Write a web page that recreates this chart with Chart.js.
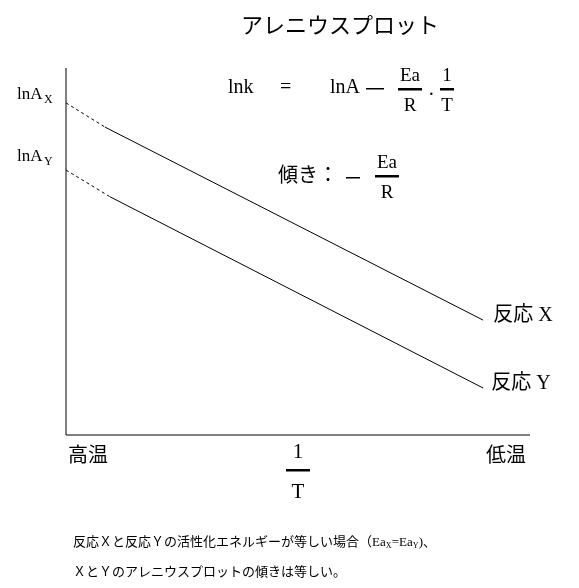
<!DOCTYPE html>
<html><head><meta charset="utf-8">
<script src="https://cdn.jsdelivr.net/npm/chart.js@4.4.0/dist/chart.umd.min.js"></script>
<style>html,body{margin:0;padding:0;background:#fff}#c{display:block}</style>
</head><body>
<canvas id="c" width="579" height="588"></canvas>
<script>
// values in axis units (x: 1/T, 0..100 ; y: lnk, 0..100)
const xStart = [0, 8.4], xMain = [8.4, 89.9];
const lnkXDash = [90.5, 83.9], lnkXMain = [83.9, 31.3];
const yStart = [0, 9.5], yMain = [9.5, 89.9];
const lnkYDash = [72.2, 64.9], lnkYMain = [64.9, 12.8];
const seriesLabels = ['反応 X', '反応 Y'];

const serif = '"Liberation Serif", "Noto Sans CJK JP", serif';
const pts = (xs, ys) => xs.map((x, i) => ({x: x, y: ys[i]}));
const line = (data, dash) => ({data: data, borderColor: '#000', borderWidth: 1, borderDash: dash, pointRadius: 0, fill: false});

function frac(ctx, top, bot, cx, barY, w, size, gap) {
    ctx.font = size + 'px ' + serif;
    ctx.textAlign = 'center';
    ctx.textBaseline = 'alphabetic';
    ctx.fillText(top, cx, barY - gap);
    ctx.fillRect(cx - w / 2, barY - 1, w, 2.5);
    ctx.textBaseline = 'top';
    ctx.fillText(bot, cx, barY + gap);
}

const decor = {
    id: 'decor',
    afterDraw(chart) {
        const ctx = chart.ctx, a = chart.chartArea;
        ctx.save();
        ctx.fillStyle = '#000';
        ctx.strokeStyle = '#000';
        ctx.lineWidth = 1;
        ctx.beginPath();
        ctx.moveTo(a.left, a.top); ctx.lineTo(a.left, a.bottom); ctx.lineTo(a.right, a.bottom);
        ctx.stroke();

        ctx.textBaseline = 'middle';
        ctx.textAlign = 'center';
        ctx.font = '22px ' + serif;
        ctx.fillText('アレニウスプロット', 340, 27);

        ctx.font = '20px ' + serif;
        ctx.textAlign = 'left';
        ctx.fillText('lnk', 228, 88);
        ctx.fillText('=', 280, 88);
        ctx.fillText('lnA', 330, 88);
        ctx.fillRect(366, 88, 18, 1.5);
        ctx.fillText('·', 428, 96);
        frac(ctx, 'Ea', 'R', 410, 89, 24, 19, 8);
        frac(ctx, '1', 'T', 447, 89, 14, 19, 8);

        ctx.textBaseline = 'middle';
        ctx.textAlign = 'left';
        ctx.font = '20px ' + serif;
        ctx.fillText('傾き：', 278, 177);
        ctx.fillRect(346, 177, 14, 1.5);
        frac(ctx, 'Ea', 'R', 387, 176, 24, 19, 8);

        ctx.textBaseline = 'middle';
        ctx.textAlign = 'left';
        ctx.font = '17px ' + serif;
        ctx.fillText('lnA', 17, 95); ctx.fillText('lnA', 17, 157);
        ctx.font = '12px ' + serif;
        ctx.fillText('X', 44, 100); ctx.fillText('Y', 44, 162);

        ctx.font = '20px ' + serif;
        const mx = chart.getDatasetMeta(1).data, my = chart.getDatasetMeta(3).data;
        ctx.fillText(seriesLabels[0], mx[1].x + 10, mx[1].y - 4);
        ctx.fillText(seriesLabels[1], my[1].x + 8, my[1].y - 4);

        ctx.fillText('高温', 68, 457);
        ctx.fillText('低温', 486, 457);
        frac(ctx, '1', 'T', 298, 470, 24, 21, 12);

        ctx.textAlign = 'left';
        ctx.textBaseline = 'middle';
        ctx.font = '13px ' + serif;
        ctx.fillText('反応Ｘと反応Ｙの活性化エネルギーが等しい場合（Ea', 73, 543);
        ctx.fillText('ＸとＹのアレニウスプロットの傾きは等しい。', 73, 573);
        let w = ctx.measureText('反応Ｘと反応Ｙの活性化エネルギーが等しい場合（Ea').width + 73;
        ctx.font = '8px ' + serif; ctx.fillText('X', w, 546); w += 6;
        ctx.font = '13px ' + serif; ctx.fillText('=Ea', w, 543); w += ctx.measureText('=Ea').width;
        ctx.font = '8px ' + serif; ctx.fillText('Y', w, 546); w += 6;
        ctx.font = '13px ' + serif; ctx.fillText(')、', w, 543);
        ctx.restore();
    }
};

new Chart(document.getElementById('c'), {
    type: 'line',
    data: {
        datasets: [
            line(pts(xStart, lnkXDash), [3, 3]),
            line(pts(xMain, lnkXMain), []),
            line(pts(yStart, lnkYDash), [3, 3]),
            line(pts(yMain, lnkYMain), [])
        ]
    },
    plugins: [decor],
    options: {
        responsive: false,
        animation: false,
        layout: {padding: {left: 66, top: 68, right: 49, bottom: 153}},
        plugins: {legend: {display: false}, tooltip: {enabled: false}},
        scales: {
            x: {type: 'linear', min: 0, max: 100, display: false},
            y: {type: 'linear', min: 0, max: 100, display: false}
        }
    }
});
</script>
</body></html>
